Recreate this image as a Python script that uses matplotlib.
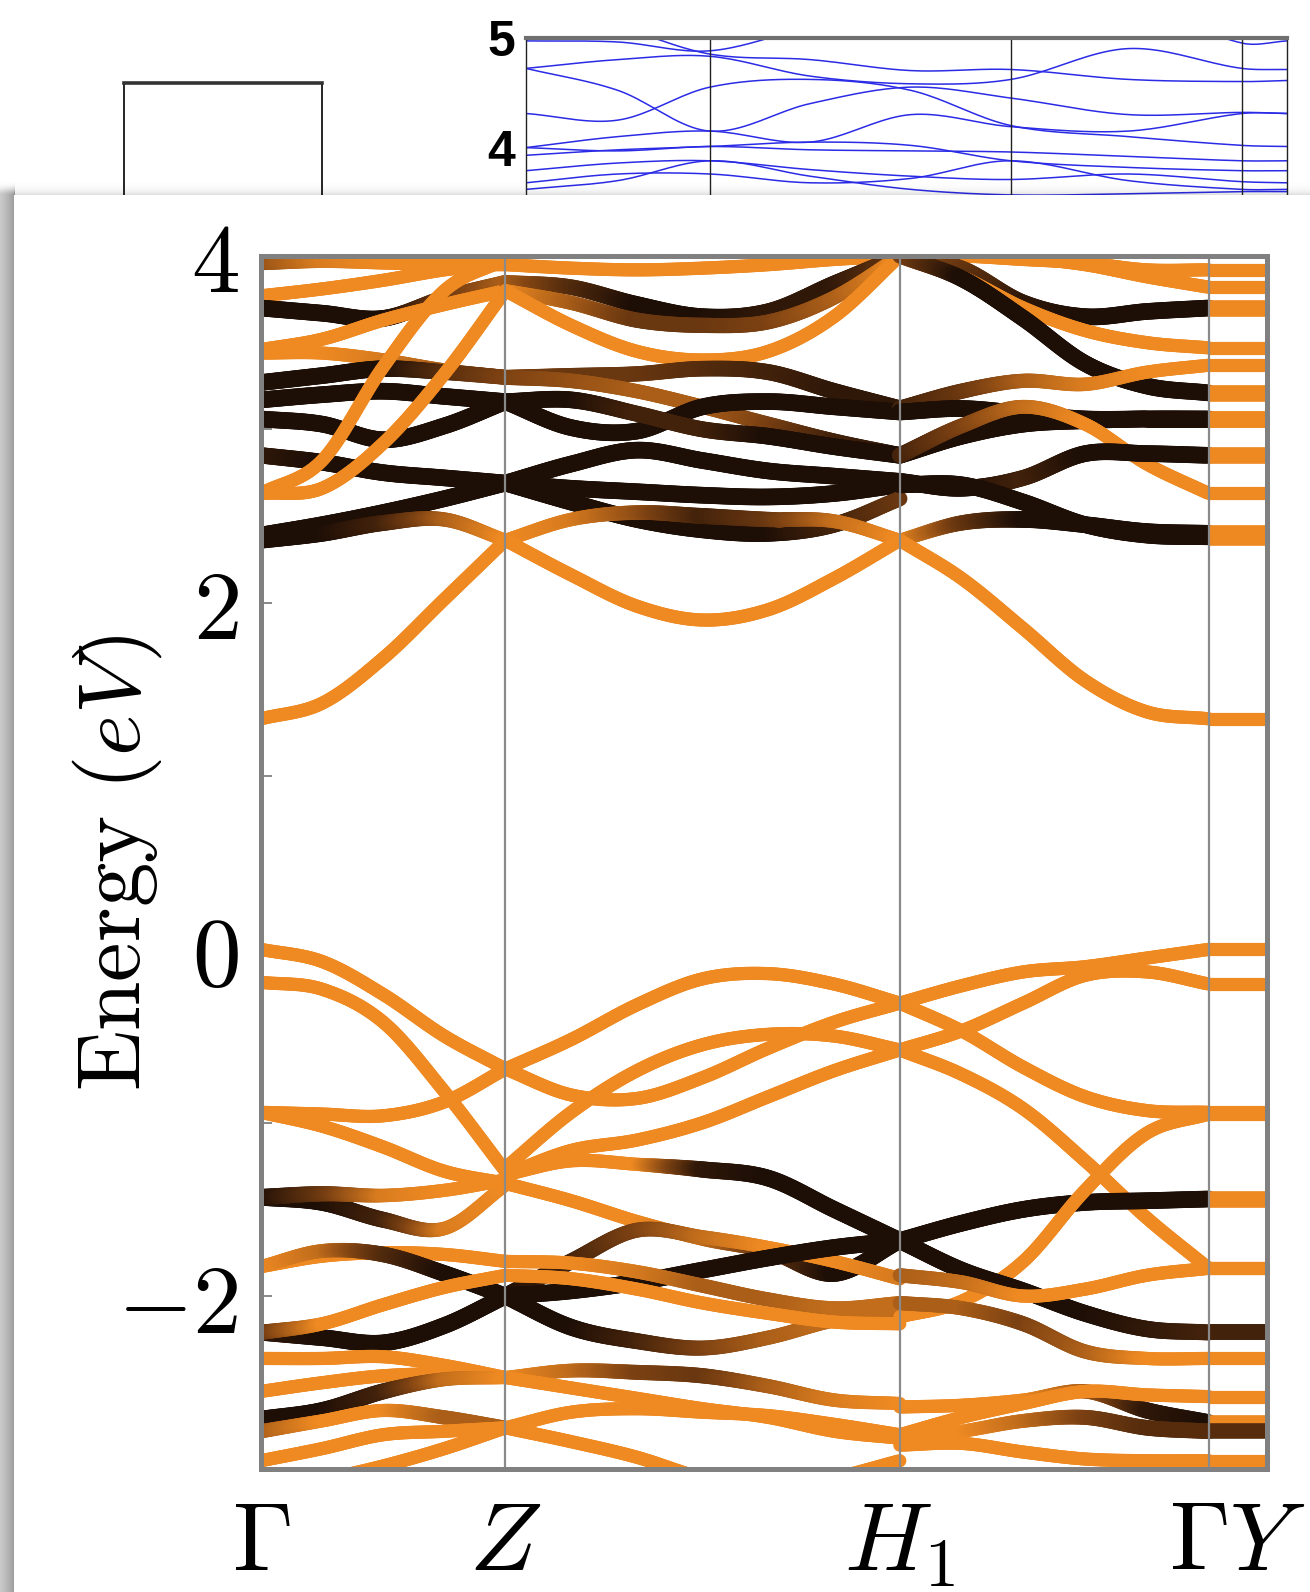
import numpy as np
import matplotlib
matplotlib.use("Agg")
import matplotlib.pyplot as plt
from matplotlib.collections import LineCollection
from matplotlib.colors import LinearSegmentedColormap
from matplotlib.patches import Rectangle

plt.rcParams["mathtext.fontset"] = "cm"
plt.rcParams["font.family"] = ["DejaVu Sans"]

# ---------------------------------------------------------------
# Path through the Brillouin zone
# ---------------------------------------------------------------
k_ticks = [0.0, 0.243, 0.635, 0.942, 1.0]
k_labels = [r"$\Gamma$", r"$Z$", r"$H_1$", r"$\Gamma Y$"]
y_major = [-2, 0, 2, 4]
y_major_labels = [r"$-2$", r"$0$", r"$2$", r"$4$"]
y_minor = [-3, -1, 1, 3]

# Band energies (eV) sampled at evenly spaced k-points on each segment,
# with the projected weight (0 = orange character, 1 = dark character).

# Gamma -> Z (5 samples)
gz_energy = [
    [3.96, 3.97, 3.96, 3.95, 3.95],
    [3.77, 3.81, 3.86, 3.92, 3.96],
    [3.70, 3.67, 3.64, 3.76, 3.85],
    [3.46, 3.52, 3.63, 3.72, 3.80],
    [3.44, 3.44, 3.40, 3.34, 3.30],
    [3.27, 3.31, 3.35, 3.33, 3.30],
    [3.17, 3.20, 3.22, 3.19, 3.16],
    [3.06, 3.03, 2.94, 3.02, 3.16],
    [2.85, 2.81, 2.75, 2.72, 2.69],
    [2.39, 2.45, 2.52, 2.60, 2.69],
    [2.36, 2.40, 2.46, 2.48, 2.36],
    [2.63, 2.82, 3.36, 3.80, 3.98],
    [2.63, 2.66, 2.92, 3.32, 3.80],
    [1.33, 1.42, 1.68, 2.02, 2.36],
    [0.00, -0.07, -0.26, -0.50, -0.69],
    [-0.19, -0.23, -0.42, -0.82, -1.28],
    [-0.94, -0.95, -0.96, -0.88, -0.69],
    [-0.94, -1.02, -1.14, -1.28, -1.35],
    [-1.43, -1.46, -1.56, -1.61, -1.36],
    [-1.43, -1.41, -1.42, -1.39, -1.33],
    [-1.83, -1.77, -1.75, -1.76, -1.80],
    [-1.83, -1.74, -1.76, -1.87, -2.00],
    [-2.21, -2.24, -2.27, -2.17, -2.00],
    [-2.21, -2.16, -2.05, -1.95, -1.88],
    [-2.36, -2.36, -2.35, -2.40, -2.47],
    [-2.55, -2.50, -2.46, -2.45, -2.47],
    [-2.71, -2.66, -2.55, -2.48, -2.47],
    [-2.78, -2.72, -2.66, -2.70, -2.76],
    [-2.95, -2.88, -2.80, -2.78, -2.76],
    [-3.12, -3.06, -2.98, -2.88, -2.76],
]
gz_weight = [
    [0.4, 0.1, 0, 0, 0],
    [0, 0, 0, 0, 0],
    [1, 1, 1, 0.6, 0.3],
    [0, 0, 0, 0, 0],
    [0, 0, 0.1, 0.3, 0.5],
    [1, 1, 1, 0.7, 0.5],
    [1, 1, 1, 1, 1],
    [1, 1, 1, 1, 1],
    [0.9, 1, 1, 1, 1],
    [1, 1, 1, 1, 1],
    [1, 1, 0.8, 0.3, 0],
    [0, 0, 0, 0, 0],
    [0, 0, 0, 0, 0],
    [0, 0, 0, 0, 0],
    [0, 0, 0, 0, 0],
    [0, 0, 0, 0, 0],
    [0, 0, 0, 0, 0],
    [0, 0, 0, 0, 0],
    [1, 1, 0.8, 0.1, 0],
    [1, 0.6, 0.1, 0, 0],
    [0, 0, 0, 0, 0],
    [0, 0.2, 0.7, 1, 1],
    [0.9, 1, 1, 1, 1],
    [0.6, 0, 0, 0, 0],
    [0, 0, 0, 0, 0],
    [0, 0, 0, 0, 0],
    [1, 1, 0.8, 0.2, 0],
    [0.3, 0, 0, 0.3, 0.3],
    [0, 0, 0, 0, 0],
    [0, 0, 0, 0, 0],
]

# Z -> H1 (7 samples)
zh_energy = [
    [3.95, 3.93, 3.92, 3.93, 3.95, 3.98, 4.00],
    [3.85, 3.82, 3.72, 3.65, 3.68, 3.84, 4.00],
    [3.80, 3.73, 3.63, 3.60, 3.62, 3.76, 4.00],
    [3.80, 3.60, 3.45, 3.40, 3.45, 3.65, 4.00],
    [3.30, 3.31, 3.32, 3.35, 3.33, 3.22, 3.12],
    [3.30, 3.28, 3.22, 3.13, 3.03, 2.93, 2.85],
    [3.16, 3.01, 2.99, 3.13, 3.16, 3.13, 3.10],
    [3.16, 3.17, 3.09, 3.00, 2.96, 2.90, 2.85],
    [2.69, 2.80, 2.88, 2.82, 2.76, 2.73, 2.70],
    [2.69, 2.66, 2.64, 2.62, 2.61, 2.63, 2.68],
    [2.69, 2.58, 2.48, 2.42, 2.40, 2.45, 2.60],
    [2.36, 2.48, 2.52, 2.50, 2.48, 2.47, 2.36],
    [2.36, 2.16, 1.98, 1.90, 1.96, 2.14, 2.36],
    [-0.69, -0.52, -0.32, -0.17, -0.14, -0.20, -0.31],
    [-0.69, -0.84, -0.86, -0.74, -0.57, -0.42, -0.31],
    [-1.26, -0.94, -0.70, -0.55, -0.49, -0.50, -0.58],
    [-1.30, -1.16, -1.10, -1.00, -0.85, -0.70, -0.58],
    [-1.30, -1.22, -1.24, -1.27, -1.32, -1.50, -1.68],
    [-1.35, -1.45, -1.57, -1.67, -1.74, -1.87, -1.68],
    [-2.00, -1.80, -1.62, -1.66, -1.72, -1.80, -1.90],
    [-2.00, -1.97, -1.92, -1.85, -1.78, -1.72, -1.68],
    [-2.00, -2.18, -2.26, -2.30, -2.24, -2.14, -2.08],
    [-1.80, -1.81, -1.86, -1.94, -2.02, -2.07, -2.04],
    [-1.88, -1.90, -1.96, -2.04, -2.10, -2.15, -2.16],
    [-2.47, -2.43, -2.44, -2.46, -2.52, -2.60, -2.62],
    [-2.47, -2.53, -2.59, -2.65, -2.70, -2.78, -2.82],
    [-2.76, -2.67, -2.65, -2.67, -2.69, -2.74, -2.80],
    [-2.76, -2.84, -2.93, -3.05, -3.12, -3.05, -2.95],
]
zh_weight = [
    [0, 0, 0, 0, 0, 0, 0],
    [0.3, 0.7, 1, 1, 0.9, 0.9, 0.6],
    [0, 0.3, 0.6, 0.6, 0.5, 0.3, 0],
    [0, 0, 0, 0, 0, 0, 0],
    [0.5, 0.6, 0.6, 0.7, 0.8, 0.9, 0.9],
    [0.5, 0.4, 0.3, 0.3, 0.5, 0.8, 0.9],
    [1, 1, 1, 1, 1, 1, 1],
    [1, 1, 0.8, 0.8, 1, 1, 1],
    [1, 1, 1, 1, 1, 1, 1],
    [1, 1, 1, 1, 1, 1, 1],
    [1, 1, 1, 1, 1, 0.8, 0.6],
    [0, 0.1, 0.4, 0.8, 0.6, 0.2, 0],
    [0, 0, 0, 0, 0, 0, 0],
    [0, 0, 0, 0, 0, 0, 0],
    [0, 0, 0, 0, 0, 0, 0],
    [0, 0, 0, 0, 0, 0, 0],
    [0, 0, 0, 0, 0, 0, 0],
    [0, 0, 0, 0.9, 1, 1, 1],
    [0, 0, 0, 0.2, 0.6, 1, 1],
    [1, 0.8, 0.5, 0.2, 0, 0, 0.1],
    [1, 1, 1, 1, 1, 1, 1],
    [1, 1, 0.8, 0.5, 0.3, 0.2, 0.2],
    [0, 0, 0.1, 0.3, 0.3, 0.2, 0.2],
    [0, 0, 0, 0, 0, 0, 0],
    [0, 0.2, 0.5, 0.6, 0.3, 0.1, 0],
    [0, 0, 0, 0, 0, 0, 0],
    [0, 0, 0, 0, 0, 0, 0],
    [0, 0, 0, 0, 0, 0, 0],
]

# H1 -> Gamma (6 samples); the short Gamma -> Y leg is flat
hg_energy = [
    [4.00, 4.00, 3.98, 3.96, 3.92, 3.92],
    [4.05, 4.02, 3.99, 3.95, 3.88, 3.82],
    [4.00, 3.93, 3.73, 3.65, 3.68, 3.70],
    [4.00, 3.88, 3.70, 3.57, 3.50, 3.47],
    [4.00, 3.87, 3.64, 3.38, 3.25, 3.21],
    [3.12, 3.22, 3.28, 3.26, 3.33, 3.37],
    [3.10, 3.12, 3.09, 3.06, 3.06, 3.06],
    [2.85, 2.96, 3.03, 3.05, 3.06, 3.06],
    [2.85, 3.02, 3.13, 3.03, 2.80, 2.63],
    [2.70, 2.66, 2.72, 2.86, 2.86, 2.85],
    [2.68, 2.68, 2.58, 2.45, 2.39, 2.38],
    [2.36, 2.46, 2.48, 2.45, 2.41, 2.40],
    [2.36, 2.14, 1.85, 1.55, 1.37, 1.33],
    [-0.31, -0.21, -0.13, -0.10, -0.05, 0.00],
    [-0.31, -0.47, -0.68, -0.85, -0.93, -0.94],
    [-0.58, -0.47, -0.31, -0.15, -0.13, -0.20],
    [-0.58, -0.72, -0.92, -1.22, -1.55, -1.84],
    [-1.68, -1.58, -1.50, -1.46, -1.45, -1.44],
    [-2.12, -2.03, -1.80, -1.39, -1.06, -0.95],
    [-1.68, -1.85, -1.97, -2.10, -2.19, -2.21],
    [-1.88, -1.92, -2.00, -1.96, -1.88, -1.84],
    [-2.04, -2.07, -2.16, -2.32, -2.36, -2.36],
    [-2.64, -2.63, -2.60, -2.55, -2.66, -2.73],
    [-2.80, -2.70, -2.62, -2.55, -2.57, -2.58],
    [-2.82, -2.78, -2.72, -2.70, -2.76, -2.78],
    [-2.86, -2.85, -2.90, -2.94, -2.95, -2.95],
]
hg_weight = [
    [0, 0, 0, 0, 0, 0],
    [0, 0, 0, 0, 0, 0],
    [0.3, 0.6, 0.9, 1, 1, 1],
    [0, 0, 0, 0, 0, 0],
    [0.5, 1, 1, 1, 1, 1],
    [0.8, 0.6, 0.3, 0.1, 0, 0],
    [1, 1, 1, 1, 1, 1],
    [1, 1, 1, 1, 1, 1],
    [0.8, 0.5, 0.2, 0, 0, 0],
    [1, 1, 0.8, 1, 1, 1],
    [1, 1, 1, 1, 1, 1],
    [0, 0.6, 1, 1, 1, 1],
    [0, 0, 0, 0, 0, 0],
    [0, 0, 0, 0, 0, 0],
    [0, 0, 0, 0, 0, 0],
    [0, 0, 0, 0, 0, 0],
    [0, 0, 0, 0, 0, 0],
    [1, 1, 1, 1, 1, 1],
    [0, 0, 0, 0, 0, 0],
    [1, 1, 1, 1, 0.9, 0.8],
    [0.3, 0.2, 0, 0, 0, 0],
    [0.3, 0.3, 0.5, 0.3, 0, 0],
    [0, 0, 0, 0.3, 0.9, 1],
    [0, 0, 0, 0, 0, 0],
    [0, 0, 0.2, 0.5, 0.7, 0.7],
    [0, 0, 0, 0, 0, 0],
]

# Bands of the panel behind (plain DFT, eV), 9 k-samples
blue_k = [0, 92, 184, 284, 385, 485, 602, 716, 761]
blue_ticks = [184, 485, 716]
blue_bands = [
    [4.97, 4.96, 4.88, 5.10, 5.30, 5.30, 5.30, 4.95, 4.97],
    [4.72, 4.80, 4.83, 4.65, 4.58, 4.62, 4.90, 4.72, 4.71],
    [4.72, 4.52, 4.15, 4.40, 4.55, 4.45, 4.30, 4.32, 4.31],
    [4.31, 4.25, 4.55, 4.62, 4.52, 4.20, 4.10, 4.02, 4.01],
    [4.00, 4.10, 4.15, 4.05, 4.30, 4.19, 4.15, 4.31, 4.31],
    [4.00, 3.97, 4.01, 3.98, 3.97, 3.96, 3.92, 3.88, 3.88],
    [3.93, 3.98, 4.01, 4.05, 4.02, 3.88, 3.82, 3.79, 3.79],
    [3.79, 3.86, 3.88, 3.80, 3.74, 3.71, 3.76, 3.69, 3.68],
    [3.68, 3.76, 3.76, 3.68, 3.72, 3.88, 3.70, 3.62, 3.62],
    [3.62, 3.70, 3.88, 3.74, 3.62, 3.57, 3.58, 3.60, 3.60],
    [5.30, 5.10, 4.85, 4.80, 4.70, 4.71, 4.62, 4.60, 4.61],
]

# ---------------------------------------------------------------
W, H = 1310, 1592
fig = plt.figure(figsize=(W / 100, H / 100), dpi=100)
fig.patch.set_facecolor("white")

cmap = LinearSegmentedColormap.from_list(
    "proj", [(0.0, "#EF8A22"), (0.5, "#7C4112"), (1.0, "#1D0E06")])


def hermite(xs, ys, n=28):
    """Smooth curve through the samples (cubic Hermite, centred slopes)."""
    xs = np.asarray(xs, float)
    ys = np.asarray(ys, float)
    m = len(xs)
    t = np.empty(m)
    t[1:-1] = (ys[2:] - ys[:-2]) / (xs[2:] - xs[:-2])
    t[0] = (ys[1] - ys[0]) / (xs[1] - xs[0])
    t[-1] = (ys[-1] - ys[-2]) / (xs[-1] - xs[-2])
    px, py = [], []
    for i in range(m - 1):
        h = xs[i + 1] - xs[i]
        s = np.linspace(0, 1, n, endpoint=(i == m - 2))
        h00 = 2 * s**3 - 3 * s**2 + 1
        h10 = s**3 - 2 * s**2 + s
        h01 = -2 * s**3 + 3 * s**2
        h11 = s**3 - s**2
        px.append(xs[i] + s * h)
        py.append(h00 * ys[i] + h10 * h * t[i] + h01 * ys[i + 1] + h11 * h * t[i + 1])
    return np.concatenate(px), np.concatenate(py)


def band_width(w):
    return 9.5 + 2.5 * w


def draw_band(ax, ks, energies, weights, z=2):
    x, y = hermite(ks, energies)
    w = np.interp(x, ks, weights)
    pts = np.column_stack([x, y]).reshape(-1, 1, 2)
    segs = np.concatenate([pts[:-1], pts[1:]], axis=1)
    wm = 0.5 * (w[:-1] + w[1:])
    lc = LineCollection(segs, colors=cmap(wm), linewidths=band_width(wm),
                        capstyle="round", zorder=z)
    ax.add_collection(lc)


# ---------------- background panel (partly covered) ----------------
bg = fig.add_axes([0, 0, 1, 1], zorder=0)
bg.set_xlim(0, W)
bg.set_ylim(H, 0)
bg.axis("off")
bg.plot([124, 124], [83, 400], color="black", lw=1.2)
bg.plot([322, 322], [83, 400], color="black", lw=1.2)
bg.plot([124, 322], [83, 83], color="#333333", lw=2.6)

bax = fig.add_axes([526 / W, 1 - 257.6 / H, (1287 - 526) / W, 220 / H], zorder=1)
bax.set_xlim(blue_k[0], blue_k[-1])
bax.set_ylim(3, 5)
for e in blue_bands:
    xx, yy = hermite(blue_k, e, n=20)
    bax.plot(xx, yy, color="#2B2BE6", lw=1.1)
for kt in blue_ticks:
    bax.axvline(kt, color="#222222", lw=1.0)
bax.set_xticks([])
bax.set_yticks([4, 5])
bax.set_yticklabels(["4", "5"], fontfamily="Liberation Sans", fontsize=36,
                    fontweight="bold")
bax.tick_params(axis="y", length=0, pad=8)
bax.spines["top"].set_color("#707070")
bax.spines["top"].set_linewidth(3)
for s in ["left", "right"]:
    bax.spines[s].set_color("#222222")
    bax.spines[s].set_linewidth(1.0)
bax.spines["bottom"].set_visible(False)

# ---------------- card with drop shadow ----------------
deco = fig.add_axes([0, 0, 1, 1], zorder=5)
deco.axis("off")
card_x, card_y = 14, 195

# left edge shadow
yy, xx = np.mgrid[card_y - 20:H, 0:card_x + 1].astype(np.float32)
dx = np.clip(card_x - xx, 0, None)
dy = np.clip(card_y - yy, 0, None)
a_left = 0.40 * np.exp(-dx / 22.0) * np.exp(-(dy / 7.0) ** 2)
sh = np.zeros(a_left.shape + (4,), np.float32)
sh[..., 3] = a_left
deco.imshow(sh, extent=(0, card_x + 1, H, card_y - 20), interpolation="bilinear",
            zorder=1, aspect="auto")

# top edge shadow
yy2, xx2 = np.mgrid[card_y - 16:card_y + 1, card_x:W].astype(np.float32)
dy2 = np.clip(card_y - yy2, 0, None)
a_top = 0.16 * np.exp(-dy2 / 4.0)
sh2 = np.zeros(a_top.shape + (4,), np.float32)
sh2[..., 3] = a_top
deco.imshow(sh2, extent=(card_x, W, card_y + 1, card_y - 16), interpolation="bilinear",
            zorder=1, aspect="auto")
deco.add_patch(Rectangle((card_x, card_y), W - card_x, H - card_y,
                         facecolor="white", edgecolor="none", zorder=2))
deco.set_xlim(0, W)
deco.set_ylim(H, 0)

# ---------------- main band structure ----------------
ax = fig.add_axes([261 / W, 1 - 1469.4 / H, (1267 - 261) / W, (1469.4 - 256) / H],
                  zorder=10)
ax.set_facecolor("white")

gz_k = np.linspace(k_ticks[0], k_ticks[1], 5)
zh_k = np.linspace(k_ticks[1], k_ticks[2], 7)
hg_k = np.linspace(k_ticks[2], k_ticks[3], 6)

for e, w in zip(gz_energy, gz_weight):
    draw_band(ax, gz_k, e, w)
for e, w in zip(zh_energy, zh_weight):
    draw_band(ax, zh_k, e, w)
for e, w in zip(hg_energy, hg_weight):
    draw_band(ax, hg_k, e, w)
    # flat continuation along Gamma -> Y
    ax.plot([k_ticks[3], k_ticks[4]], [e[-1], e[-1]], color=cmap(w[-1]),
            lw=band_width(w[-1]), solid_capstyle="butt", zorder=2)

for kt in k_ticks[1:4]:
    ax.axvline(kt, color="#8A8A8A", lw=1.6, zorder=3)

ax.set_xlim(k_ticks[0], k_ticks[-1])
ax.set_ylim(-3, 4)
# Gamma and Y sit so close that they share one label
label_pos = k_ticks[:3] + [0.5 * (k_ticks[3] + k_ticks[4])]
ax.set_xticks(label_pos)
ax.set_xticklabels(k_labels)
ax.set_yticks(y_major)
ax.set_yticklabels(y_major_labels)
ax.set_yticks(y_minor, minor=True)
ax.tick_params(axis="x", length=0, labelsize=70, pad=20)
ax.tick_params(axis="y", which="both", direction="in", length=8, width=1.3,
               color="#808080", labelsize=70, pad=16)
for s in ax.spines.values():
    s.set_color("#808080")
    s.set_linewidth(3.6)
    s.set_zorder(4)

fig.text(117 / W, 1 - 863 / H, r"$\mathrm{Energy}\ (eV)$", rotation=90,
         ha="center", va="center", fontsize=64, zorder=30)

fig.savefig("out.png", dpi=100, facecolor="white")
